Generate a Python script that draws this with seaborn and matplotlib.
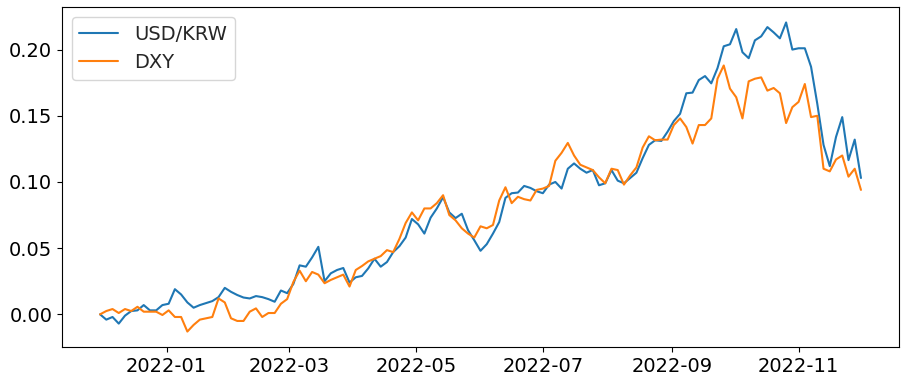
import matplotlib
matplotlib.use("Agg")
import matplotlib.pyplot as plt
import matplotlib.dates as mdates
import seaborn as sns
import pandas as pd

start_date = "2021-11-30"
step = "3D"

usd_krw = [
    0.000, -0.004, -0.002, -0.007, -0.001, 0.0025, 0.003, 0.007, 0.003, 0.003,
    0.007, 0.008, 0.019, 0.015, 0.009, 0.005, 0.007, 0.0085, 0.010, 0.013,
    0.020, 0.017, 0.0146, 0.0127, 0.012, 0.0138, 0.013, 0.0115, 0.0095, 0.018,
    0.016, 0.023, 0.037, 0.036, 0.043, 0.051, 0.025, 0.031, 0.0335, 0.035,
    0.024, 0.028, 0.029, 0.0347, 0.042, 0.036, 0.0395, 0.047, 0.0515, 0.058,
    0.072, 0.068, 0.061, 0.073, 0.080, 0.0885, 0.077, 0.0727, 0.076, 0.0636,
    0.056, 0.048, 0.053, 0.061, 0.0697, 0.088, 0.0915, 0.092, 0.097, 0.0955,
    0.093, 0.0915, 0.098, 0.100, 0.095, 0.110, 0.114, 0.110, 0.107, 0.109,
    0.0975, 0.099, 0.109, 0.101, 0.099, 0.103, 0.107, 0.118, 0.128, 0.1315,
    0.131, 0.138, 0.146, 0.1515, 0.167, 0.1675, 0.177, 0.180, 0.1745, 0.186,
    0.2025, 0.204, 0.2155, 0.198, 0.1935, 0.207, 0.210, 0.217, 0.213, 0.2085,
    0.2205, 0.200, 0.201, 0.201, 0.187, 0.159, 0.128, 0.112, 0.134, 0.149,
    0.1165, 0.132, 0.103,
]

dxy = [
    0.000, 0.0025, 0.004, 0.001, 0.004, 0.0025, 0.0057, 0.002, 0.002, 0.002,
    -0.0005, 0.003, -0.002, -0.002, -0.013, -0.008, -0.004, -0.003, -0.002, 0.012,
    0.009, -0.003, -0.005, -0.005, 0.002, 0.0045, -0.002, 0.001, 0.001, 0.008,
    0.0115, 0.0245, 0.033, 0.025, 0.032, 0.030, 0.0235, 0.026, 0.028, 0.030,
    0.021, 0.0335, 0.0365, 0.040, 0.042, 0.044, 0.0485, 0.047, 0.057, 0.069,
    0.077, 0.071, 0.080, 0.080, 0.084, 0.090, 0.075, 0.071, 0.065, 0.061,
    0.058, 0.0665, 0.065, 0.0675, 0.086, 0.096, 0.084, 0.0888, 0.087, 0.086,
    0.094, 0.095, 0.097, 0.116, 0.122, 0.1295, 0.120, 0.113, 0.111, 0.109,
    0.1035, 0.099, 0.110, 0.109, 0.098, 0.105, 0.111, 0.126, 0.1345, 0.1315,
    0.132, 0.132, 0.143, 0.148, 0.1415, 0.129, 0.143, 0.143, 0.148, 0.178,
    0.188, 0.1705, 0.164, 0.148, 0.176, 0.178, 0.179, 0.169, 0.171, 0.167,
    0.1445, 0.1565, 0.1605, 0.174, 0.149, 0.150, 0.110, 0.108, 0.117, 0.120,
    0.104, 0.110, 0.094,
]

series_names = ["USD/KRW", "DXY"]
tick_months = [1, 3, 5, 7, 9, 11]

dates = pd.date_range(start_date, periods=len(usd_krw), freq=step)
df = pd.DataFrame({"date": dates, series_names[0]: usd_krw, series_names[1]: dxy})

sns.set_style("ticks")
plt.rcParams["font.family"] = ["DejaVu Sans"]

fig, ax = plt.subplots(figsize=(9.04, 3.77), dpi=100)
fig.subplots_adjust(left=62 / 904, right=899 / 904, top=1 - 7 / 377, bottom=1 - 347 / 377)

sns.lineplot(data=df, x="date", y=series_names[0], ax=ax, color="#1f77b4",
             label=series_names[0], linewidth=1.5)
sns.lineplot(data=df, x="date", y=series_names[1], ax=ax, color="#ff7f0e",
             label=series_names[1], linewidth=1.5)

ax.set_xlabel("")
ax.set_ylabel("")
ax.xaxis.set_major_locator(mdates.MonthLocator(bymonth=tick_months))
ax.xaxis.set_major_formatter(mdates.DateFormatter("%Y-%m"))
ax.set_yticks([0.00, 0.05, 0.10, 0.15, 0.20])
ax.set_yticklabels(["0.00", "0.05", "0.10", "0.15", "0.20"])
ax.tick_params(labelsize=14, width=0.8, length=3.5, colors="black")
for s in ax.spines.values():
    s.set_color("black")
    s.set_linewidth(0.8)
ax.legend(loc="upper left", fontsize=14, frameon=True)

fig.savefig("out.png", dpi=100)
